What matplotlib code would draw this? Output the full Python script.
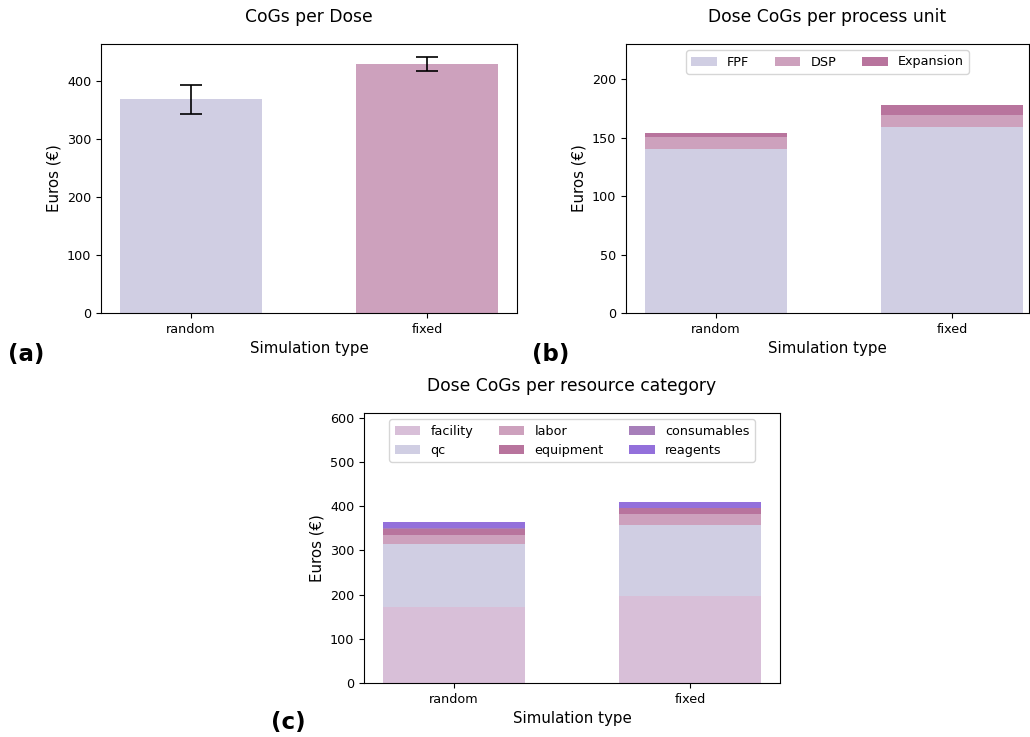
import matplotlib
matplotlib.use('Agg')
from matplotlib import pyplot as plt
import numpy as np

sim_types = ['random', 'fixed']

# (a) CoGs per dose
dose_cogs = [369, 429]
dose_err = [25, 12]

# (b) per process unit
units = ['FPF', 'DSP', 'Expansion']
unit_vals = {
    'FPF': [140, 159],
    'DSP': [10.5, 10],
    'Expansion': [3.5, 8.5],
}

# (c) per resource category
categories = ['facility', 'qc', 'labor', 'equipment', 'consumables', 'reagents']
cat_vals = {
    'facility': [172, 197],
    'qc': [142, 160],
    'labor': [22, 25],
    'equipment': [13, 13],
    'consumables': [1.5, 1.5],
    'reagents': [13, 14],
}

c_facility = '#d8bfd8'
c_qc = '#d0cee3'
c_labor = '#cda1bd'
c_equip = '#b8749d'
c_cons = '#a77fba'
c_reag = '#9370db'

W, H = 1030, 737
fig = plt.figure(figsize=(W / 100, H / 100), dpi=100)


def ax_px(l, t, r, b):
    return fig.add_axes([l / W, 1 - b / H, (r - l) / W, (b - t) / H])


x = np.arange(len(sim_types))
TITLE, LABEL, TICK, LEG = 12.3, 10.8, 9.2, 9.2

# panel a
ax1 = ax_px(101, 44, 517, 313)
ax1.bar(x, dose_cogs, width=0.6, color=[c_qc, c_labor], yerr=dose_err, capsize=8,
        error_kw={'elinewidth': 1.2, 'capthick': 1.2})
ax1.set_xlim(-0.38, 1.38)
ax1.set_ylim(0, 464)
ax1.set_title('CoGs per Dose', fontsize=TITLE, pad=16)

# panel b
ax2 = ax_px(626, 44, 1029, 313)
bottom = np.zeros(2)
for name, col in zip(units, [c_qc, c_labor, c_equip]):
    ax2.bar(x, unit_vals[name], width=0.6, bottom=bottom, color=col, label=name)
    bottom += np.array(unit_vals[name])
ax2.set_xlim(-0.38, 1.325)
ax2.set_ylim(0, 230)
ax2.set_title('Dose CoGs per process unit', fontsize=TITLE, pad=16)
ax2.legend(loc='upper center', ncol=3, fontsize=LEG)

# panel c
ax3 = ax_px(364, 413, 780, 683)
bottom = np.zeros(2)
for name, col in zip(categories, [c_facility, c_qc, c_labor, c_equip, c_cons, c_reag]):
    ax3.bar(x, cat_vals[name], width=0.6, bottom=bottom, color=col, label=name)
    bottom += np.array(cat_vals[name])
ax3.set_xlim(-0.38, 1.38)
ax3.set_ylim(0, 611)
ax3.set_title('Dose CoGs per resource category', fontsize=TITLE, pad=16)
ax3.legend(loc='upper center', ncol=3, fontsize=LEG)

for ax in (ax1, ax2, ax3):
    ax.set_xticks(x)
    ax.set_xticklabels(sim_types)
    ax.set_ylabel('Euros (€)', fontsize=LABEL)
    ax.set_xlabel('Simulation type', fontsize=LABEL)
    ax.tick_params(labelsize=TICK)

fig.text(8 / W, 1 - 355 / H, '(a)', fontsize=16.5, fontweight='bold', va='center')
fig.text(532 / W, 1 - 355 / H, '(b)', fontsize=16.5, fontweight='bold', va='center')
fig.text(271 / W, 1 - 723 / H, '(c)', fontsize=16.5, fontweight='bold', va='center')

fig.savefig('out.png', dpi=100)
